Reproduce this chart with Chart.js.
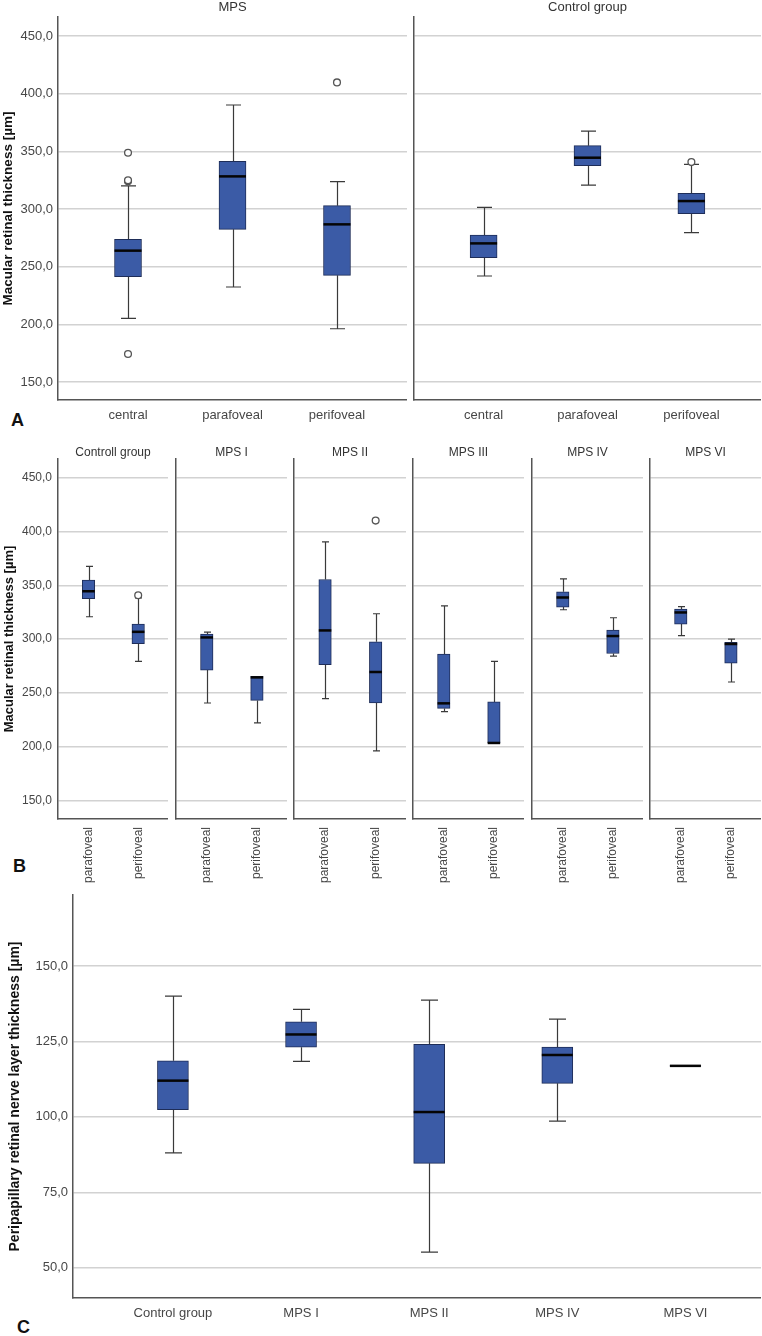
<!DOCTYPE html>
<html>
<head>
<meta charset="utf-8">
<script src="https://cdn.jsdelivr.net/npm/chart.js@4.4.1/dist/chart.umd.min.js"></script>
<style>
  html, body { margin: 0; padding: 0; background: #fff; }
  #page { position: relative; width: 762px; height: 1336px; overflow: hidden; font-family: 'Liberation Sans', Arial, sans-serif; }
  #page canvas { position: absolute; }
  .tag { position: absolute; font-weight: bold; font-size: 18px; line-height: 18px; color: #111; }
</style>
</head>
<body>
<div id="page">
  <div class="tag" style="left:11px;top:411px">A</div>
  <div class="tag" style="left:13px;top:857px">B</div>
  <div class="tag" style="left:17px;top:1318px">C</div>
</div>
<script>
// ===== Panel A: macular thickness by region =====
const regionsA = ['central', 'parafoveal', 'perifoveal'];
const ticksA = [150, 200, 250, 300, 350, 400, 450];

// MPS
const mpsMin = [205.2, 232.4, 196.2];
const mpsQ1 = [241.3, 282.4, 242.5];
const mpsMed = [263.9, 328.3, 286.7];
const mpsQ3 = [273.7, 341.3, 302.9];
const mpsMax = [320.0, 390.2, 323.7];
const mpsOut = [[348.8, 324.0, 325.0, 174.3], [], [409.8]];

// Control group
const ctrlMin = [241.9, 320.8, 279.5];
const ctrlQ1 = [257.8, 337.6, 295.9];
const ctrlMed = [270.2, 344.5, 306.9];
const ctrlQ3 = [277.4, 354.9, 313.6];
const ctrlMax = [301.4, 367.6, 338.7];
const ctrlOut = [[], [], [340.7]];

// ===== Panel B: per MPS type =====
const groupsB = ['Controll group', 'MPS I', 'MPS II', 'MPS III', 'MPS IV', 'MPS VI'];
const regionsB = ['parafoveal', 'perifoveal'];
const ticksB = [150, 200, 250, 300, 350, 400, 450];

const paraMin = [320.8, 240.7, 244.7, 232.7, 327.3, 303.2];
const paraQ1 = [337.6, 271.3, 276.3, 235.7, 329.8, 314.0];
const paraMed = [344.5, 301.6, 308.1, 240.4, 338.7, 324.8];
const paraQ3 = [354.9, 304.7, 355.4, 286.2, 344.0, 327.9];
const paraMax = [367.6, 306.6, 390.4, 331.0, 356.0, 330.3];

const periMin = [279.4, 222.2, 196.2, 203.6, 284.3, 260.2];
const periQ1 = [295.8, 243.1, 240.7, 203.6, 286.7, 277.8];
const periMed = [306.8, 264.5, 269.5, 203.6, 302.9, 295.5];
const periQ3 = [313.9, 265.5, 297.6, 241.7, 308.4, 297.0];
const periMax = [338.4, 265.5, 323.6, 279.3, 319.9, 300.1];
const periOut = [[340.8], [], [410.1], [], [], []];

// ===== Panel C: peripapillary RNFL =====
const groupsC = ['Control group', 'MPS I', 'MPS II', 'MPS IV', 'MPS VI'];
const ticksC = [50, 75, 100, 125, 150];
const cMin = [88.1, 118.4, 55.2, 98.6, 116.8];
const cQ1 = [102.4, 123.1, 84.6, 111.1, 116.8];
const cMed = [112.0, 127.3, 101.6, 120.5, 116.9];
const cQ3 = [118.6, 131.5, 124.0, 123.1, 117.0];
const cMax = [140.0, 135.6, 138.7, 132.4, 117.0];

const FONT = "'Liberation Sans', Arial, sans-serif";
const AXIS = '#555';
const GRID = '#d2d2d2';
const TXT = '#474747';

// whiskers, median and facet header, drawn around the floating bars
function whiskers(stats, capW, header, headSize, headGap) {
  return {
    id: 'whiskers',
    beforeDatasetsDraw(chart) {
      const { ctx, scales: { x, y } } = chart;
      ctx.save();
      ctx.strokeStyle = '#3a3a3a';
      ctx.lineWidth = 1.2;
      stats.forEach((s, i) => {
        const px = Math.round(x.getPixelForValue(i)) + 0.5;
        const seg = (a, b) => {
          const ya = y.getPixelForValue(a), yb = y.getPixelForValue(b);
          ctx.beginPath();
          ctx.moveTo(px, ya); ctx.lineTo(px, yb);
          ctx.moveTo(px - capW / 2, yb); ctx.lineTo(px + capW / 2, yb);
          ctx.stroke();
        };
        if (s.max > s.q3) seg(s.q3, s.max);
        if (s.min < s.q1) seg(s.q1, s.min);
      });
      ctx.restore();
    },
    afterDatasetsDraw(chart) {
      const { ctx, scales: { y } } = chart;
      const bars = chart.getDatasetMeta(0).data;
      ctx.save();
      ctx.strokeStyle = '#050505';
      ctx.lineWidth = 2.5;
      stats.forEach((s, i) => {
        const b = bars[i];
        const py = y.getPixelForValue(s.med);
        ctx.beginPath();
        ctx.moveTo(b.x - b.width / 2, py);
        ctx.lineTo(b.x + b.width / 2, py);
        ctx.stroke();
      });
      ctx.restore();
    },
    afterDraw(chart) {
      if (!header) return;
      const { ctx, chartArea: a } = chart;
      ctx.save();
      ctx.fillStyle = '#333';
      ctx.font = headSize + 'px ' + FONT;
      ctx.textAlign = 'center';
      ctx.textBaseline = 'middle';
      ctx.fillText(header, (a.left + a.right) / 2, a.top - headGap);
      ctx.restore();
    }
  };
}

function facet(f) {
  const cv = document.createElement('canvas');
  cv.width = f.w; cv.height = f.h;
  cv.style.left = f.left + 'px';
  cv.style.top = f.top + 'px';
  document.getElementById('page').appendChild(cv);

  const stats = f.min.map((v, i) => ({ min: v, q1: f.q1[i], med: f.med[i], q3: f.q3[i], max: f.max[i] }));
  const dots = [];
  (f.out || []).forEach((list, i) => list.forEach(v => dots.push({ x: i, y: v })));

  return new Chart(cv, {
    type: 'bar',
    data: {
      datasets: [
        {
          data: stats.map((s, i) => ({ x: i, y: [s.q1, s.q3] })),
          backgroundColor: '#3b5ba6', borderColor: '#1e2d58', borderWidth: 1,
          borderSkipped: false, barThickness: f.boxW
        },
        {
          type: 'scatter', data: dots, pointStyle: 'circle', pointRadius: 3.4,
          backgroundColor: '#fff', borderColor: '#555', borderWidth: 1.3
        }
      ]
    },
    options: {
      responsive: false, animation: false, events: [],
      layout: { autoPadding: false, padding: { top: f.padTop || 0 } },
      plugins: { legend: { display: false }, tooltip: { enabled: false } },
      scales: {
        x: {
          type: 'linear', bounds: 'data', offset: false, min: f.xMin, max: f.xMax,
          grid: { display: false, offset: false },
          border: { display: true, color: AXIS, width: 1.5 },
          afterBuildTicks: s => { s.ticks = f.cats.map((c, i) => ({ value: i })); },
          afterFit: s => { s.height = f.xH; },
          ticks: {
            autoSkip: false, padding: f.xPad, color: TXT,
            minRotation: f.rot || 0, maxRotation: f.rot || 0,
            font: { family: FONT, size: f.xSize },
            callback: v => f.cats[Math.round(v)]
          }
        },
        y: {
          type: 'linear', bounds: 'data', min: f.yMin, max: f.yMax,
          afterBuildTicks: s => { s.ticks = f.yTicks.map(v => ({ value: v })); },
          afterFit: s => { s.width = f.yW; },
          grid: { color: GRID, lineWidth: 1.5, drawTicks: false },
          border: { display: true, color: AXIS, width: 1.5 },
          ticks: {
            display: !!f.yTitle, padding: f.yPad || 5, color: TXT,
            font: { family: FONT, size: f.ySize || 13 },
            callback: v => v.toFixed(1).replace('.', ',')
          },
          title: {
            display: !!f.yTitle, text: f.yTitle || '', color: '#111',
            font: { family: FONT, size: f.yTitleSize || 13, weight: 'bold', lineHeight: 1.2 },
            padding: { top: f.yTitlePad || 0, bottom: 0 }
          }
        }
      }
    },
    plugins: [whiskers(stats, f.capW, f.header, f.headSize, f.headGap)]
  });
}

// ===== Panel A =====
const baseA = {
  top: 0, h: 430, padTop: 17, xH: 30, xPad: 0, xSize: 13, cats: regionsA,
  xMin: -0.67, xMax: 2.67, yMin: 134.4, yMax: 466.5, yTicks: ticksA,
  boxW: 27, capW: 15, headSize: 13, headGap: 10
};
facet(Object.assign({}, baseA, {
  left: 0, w: 407, yW: 58, yTitle: 'Macular retinal thickness [µm]', yTitleSize: 13.5, header: 'MPS',
  min: mpsMin, q1: mpsQ1, med: mpsMed, q3: mpsQ3, max: mpsMax, out: mpsOut
}));
facet(Object.assign({}, baseA, {
  left: 410, w: 351, yW: 4, header: 'Control group',
  min: ctrlMin, q1: ctrlQ1, med: ctrlMed, q3: ctrlQ3, max: ctrlMax, out: ctrlOut
}));

// ===== Panel B =====
const leftsB = [0, 172, 290, 409, 528, 646];
const widthsB = [168, 115, 116, 115, 115, 115];
groupsB.forEach((g, k) => {
  facet({
    left: leftsB[k], top: 443, w: widthsB[k], h: 448, padTop: 16, xH: 72, xPad: 0, xSize: 12, rot: 90,
    cats: regionsB, xMin: -0.614, xMax: 1.6, yMin: 133, yMax: 467.3, yTicks: ticksB,
    yW: k === 0 ? 58 : 4, yPad: 6, ySize: 12, yTitlePad: 2,
    yTitle: k === 0 ? 'Macular retinal thickness [µm]' : null,
    header: g, headSize: 12, headGap: 6,
    boxW: 12.5, capW: 7,
    min: [paraMin[k], periMin[k]], q1: [paraQ1[k], periQ1[k]], med: [paraMed[k], periMed[k]],
    q3: [paraQ3[k], periQ3[k]], max: [paraMax[k], periMax[k]], out: [[], periOut[k]]
  });
});

// ===== Panel C =====
facet({
  left: 0, top: 880, w: 761, h: 448, padTop: 15, xH: 30, xPad: 0, xSize: 13,
  cats: groupsC, xMin: -0.78, xMax: 4.59, yMin: 40, yMax: 173.5, yTicks: ticksC,
  yW: 73, yPad: 5, yTitlePad: 7, yTitleSize: 14,
  yTitle: 'Peripapillary retinal nerve layer thickness [µm]',
  boxW: 31, capW: 17,
  min: cMin, q1: cQ1, med: cMed, q3: cQ3, max: cMax, out: []
});
</script>
</body>
</html>
